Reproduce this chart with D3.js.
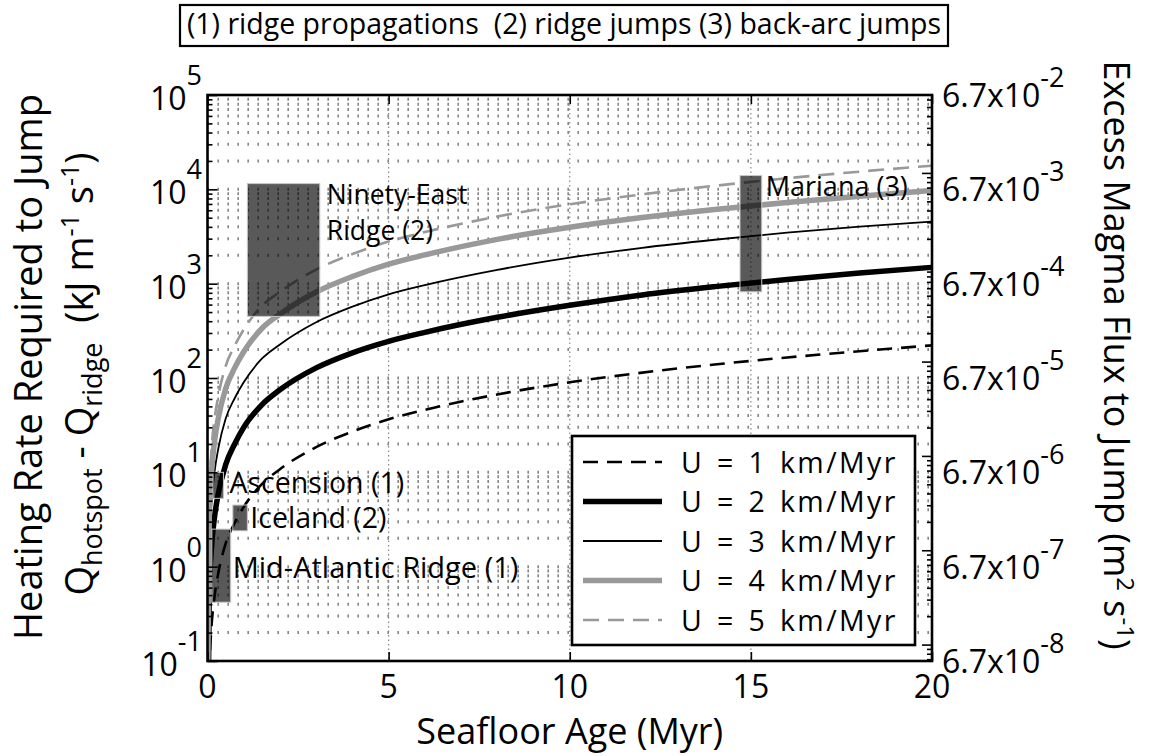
<!DOCTYPE html>
<html><head><meta charset="utf-8">
<script src="https://cdn.jsdelivr.net/npm/d3@7"></script>
<style>
body{margin:0;background:#fff;}
svg text{font-family:"Open Sans",sans-serif;fill:#000;white-space:pre;}
</style></head>
<body><svg id="c" width="1153" height="756"></svg>
<script>
// ---------- data ----------
const ages = [0.002, 0.05, 0.1, 0.2, 0.3, 0.5, 0.75, 1, 1.5, 2, 3, 4, 5, 6, 8, 10, 12, 14, 16, 18, 20];
const u1 = [0.0012, 0.08, 0.2, 0.5, 0.86, 1.75, 2.9, 4.3, 7.5, 10.8, 18.5, 27, 36.5, 46, 67, 90, 114, 139, 165, 192, 222];
const u2 = [0.008, 0.55, 1.4, 3.5, 6, 12, 20, 30, 52, 75, 128, 185, 245, 305, 440, 590, 760, 930, 1110, 1300, 1490];
const u3 = [0.025, 1.7, 4.2, 10.5, 18, 37, 61, 90, 160, 227, 390, 570, 770, 965, 1400, 1890, 2400, 2920, 3470, 4030, 4560];
const u4 = [0.05, 3.5, 8.8, 22, 38, 77, 128, 190, 335, 475, 815, 1190, 1610, 2020, 2950, 3960, 5020, 6120, 7260, 8450, 9700];
const u5 = [0.09, 6, 15, 38, 65, 133, 220, 327, 580, 820, 1410, 2060, 2800, 3520, 5150, 6950, 8850, 10900, 13100, 15400, 17800];
const seriesLabels = ["U = 1 km/Myr", "U = 2 km/Myr", "U = 3 km/Myr", "U = 4 km/Myr", "U = 5 km/Myr"];

const regionNames = ["Ninety-East|Ridge (2)", "Mariana (3)", "Ascension (1)", "Iceland (2)", "Mid-Atlantic Ridge (1)"];
const regionAgeMin = [1.1, 14.7, 0.15, 0.7, 0.12];
const regionAgeMax = [3.1, 15.3, 0.44, 1.1, 0.64];
const regionQMin = [450, 820, 5.3, 2.4, 0.42];
const regionQMax = [11500, 14000, 10, 4.5, 2.5];

const xTicks = [0, 5, 10, 15, 20];
const yTickExps = [-1, 0, 1, 2, 3, 4, 5];
const rightMantissa = "6.7";
const rightTickExps = [-8, -7, -6, -5, -4, -3, -2];
const topNote = "(1) ridge propagations  (2) ridge jumps (3) back-arc jumps";

// ---------- drawing ----------
const svg = d3.select("#c");
const m = {l: 207.5, r: 932, t: 95, b: 661};
const x = d3.scaleLinear([0, 20], [m.l, m.r]);
const y = d3.scaleLog([0.1, 1e5], [m.b, m.t]);
const yR = d3.scaleLog([6.7e-8, 6.7e-2], [m.b, m.t]);

svg.append("defs").append("clipPath").attr("id", "clip")
  .append("rect").attr("x", m.l).attr("y", m.t).attr("width", m.r - m.l).attr("height", m.b - m.t);

// grid: dotted horizontal lines at log ticks
const gridVals = y.ticks().filter(v => v > 0.1 && v < 1e5);
svg.append("g").selectAll("line").data(gridVals).join("line")
  .attr("x1", m.l).attr("x2", m.r).attr("y1", d => y(d)).attr("y2", d => y(d))
  .attr("stroke", "#6a6a6a").attr("stroke-width", 3).attr("stroke-dasharray", "1.3 8.7");
// vertical major grid
svg.append("g").selectAll("line").data(xTicks.filter(d => d > 0 && d < 20)).join("line")
  .attr("x1", d => x(d)).attr("x2", d => x(d)).attr("y1", m.t).attr("y2", m.b)
  .attr("stroke", "#888").attr("stroke-width", 1.2).attr("stroke-dasharray", "1.5 3");

// curves
const series = [u1, u2, u3, u4, u5];
const styles = [
  {c: "#000", w: 2.6, d: "15 9"},
  {c: "#000", w: 5.5, d: null},
  {c: "#000", w: 1.8, d: null},
  {c: "#999", w: 5.5, d: null},
  {c: "#999", w: 2.6, d: "16 9"}
];
const line = d3.line().x(d => x(d[0])).y(d => y(d[1])).curve(d3.curveMonotoneX);
const gc = svg.append("g").attr("clip-path", "url(#clip)");
series.forEach((s, i) => {
  gc.append("path").datum(ages.map((a, j) => [a, s[j]]))
    .attr("d", line).attr("fill", "none")
    .attr("stroke", styles[i].c).attr("stroke-width", styles[i].w)
    .attr("stroke-dasharray", styles[i].d);
});

// region boxes
regionNames.forEach((n, i) => {
  const x0 = x(regionAgeMin[i]), x1 = x(regionAgeMax[i]);
  const yt = y(regionQMax[i]), yb = y(regionQMin[i]);
  gc.append("rect").attr("x", x0).attr("y", yt).attr("width", x1 - x0).attr("height", yb - yt)
    .attr("fill", "rgba(0,0,0,0.65)").attr("stroke", "#c8c8c8").attr("stroke-width", 1);
});
// region labels
const ann = svg.append("g");
const lab = (i, dx, yy, t, fs) => ann.append("text").attr("x", x(regionAgeMax[i]) + dx).attr("y", yy)
  .style("font-size", fs + "px").text(t);
{
  const parts = regionNames[0].split("|");
  lab(0, 7, y(regionQMax[0]) + 20, parts[0], 26.5);
  lab(0, 7, y(regionQMax[0]) + 56, parts[1], 26.5);
  lab(1, 4, y(regionQMax[1]) + 20, regionNames[1], 27);
  lab(2, 6, y(regionQMin[2]) - 5, regionNames[2], 28.5);
  lab(3, 3, y(regionQMin[3]) - 3, regionNames[3], 28.5);
  lab(4, 2, (y(regionQMin[4]) + y(regionQMax[4])) / 2 + 12, regionNames[4], 29);
}

// ticks (inward)
const majors = yTickExps.map(e => Math.pow(10, e));
const minors = y.ticks().filter(v => !majors.some(M => Math.abs(M - v) / M < 1e-9));
const tickG = svg.append("g");
const ax = (g, a) => { g.call(a); g.select(".domain").remove(); g.selectAll("text").remove(); g.selectAll("line").attr("stroke-width", 1.6); };
tickG.append("g").attr("transform", `translate(${m.l},0)`).call(g => ax(g, d3.axisLeft(y).tickValues(majors).tickSize(-10).tickSizeOuter(0)));
tickG.append("g").attr("transform", `translate(${m.l},0)`).call(g => ax(g, d3.axisLeft(y).tickValues(minors).tickSize(-5).tickSizeOuter(0)));
const rMajors = yR.ticks().filter(v => Math.abs(Math.log10(v) - Math.round(Math.log10(v))) < 1e-9);
const rMinors = yR.ticks().filter(v => !rMajors.includes(v));
tickG.append("g").attr("transform", `translate(${m.r},0)`).call(g => ax(g, d3.axisRight(yR).tickValues(rMajors).tickSize(-10).tickSizeOuter(0)));
tickG.append("g").attr("transform", `translate(${m.r},0)`).call(g => ax(g, d3.axisRight(yR).tickValues(rMinors).tickSize(-5).tickSizeOuter(0)));
tickG.append("g").attr("transform", `translate(0,${m.b})`).call(g => ax(g, d3.axisBottom(x).tickValues(xTicks).tickSize(-9).tickSizeOuter(0)));
tickG.append("g").attr("transform", `translate(0,${m.t})`).call(g => ax(g, d3.axisTop(x).tickValues(xTicks).tickSize(-9).tickSizeOuter(0)));

// frame
svg.append("rect").attr("x", m.l).attr("y", m.t).attr("width", m.r - m.l).attr("height", m.b - m.t)
  .attr("fill", "none").attr("stroke", "#000").attr("stroke-width", 2.6);

// legend
const lg = svg.append("g");
lg.append("rect").attr("x", 572).attr("y", 436).attr("width", 343).attr("height", 209)
  .attr("fill", "#fff").attr("stroke", "#000").attr("stroke-width", 2.6);
seriesLabels.forEach((t, i) => {
  const cy = 462 + i * 39.5;
  lg.append("line").attr("x1", 583).attr("x2", 662).attr("y1", cy).attr("y2", cy)
    .attr("stroke", styles[i].c).attr("stroke-width", styles[i].w).attr("stroke-dasharray", styles[i].d);
  lg.append("text").attr("x", 681).attr("y", cy + 10.5).style("font-size", "28.5px")
    .style("word-spacing", "3px").style("letter-spacing", "2.4px").text(t);
});

// left tick labels
const lt = svg.append("g");
yTickExps.forEach(e => {
  const t = lt.append("text").attr("x", 202).attr("y", y(Math.pow(10, e)) + 15)
    .attr("text-anchor", "end").style("font-size", "32px");
  t.append("tspan").text("10");
  t.append("tspan").attr("dy", -25).style("font-size", "27px").text(e);
});
// right tick labels
rightTickExps.forEach(e => {
  const t = lt.append("text").attr("x", 942).attr("y", yR(6.7 * Math.pow(10, e)) + 12).style("font-size", "32px");
  t.append("tspan").text(rightMantissa + "x10");
  t.append("tspan").attr("dy", -20).style("font-size", "27px").text(e);
});
// x tick labels
xTicks.forEach(v => {
  lt.append("text").attr("x", x(v)).attr("y", 698).attr("text-anchor", "middle").style("font-size", "32px").text(v);
});

// axis titles
svg.append("text").attr("x", x(10)).attr("y", 744).attr("text-anchor", "middle").style("font-size", "36px").text("Seafloor Age (Myr)");
svg.append("text").attr("transform", "translate(42,367) rotate(-90)").attr("text-anchor", "middle")
  .style("font-size", "38px").text("Heating Rate Required to Jump");
{
  const t = svg.append("text").attr("transform", "translate(93,374) rotate(-90)").attr("text-anchor", "middle").style("font-size", "38px");
  t.append("tspan").text("Q");
  t.append("tspan").attr("dy", 9).style("font-size", "27px").text("hotspot");
  t.append("tspan").attr("dy", -9).text(" - Q");
  t.append("tspan").attr("dy", 9).style("font-size", "27px").text("ridge");
  t.append("tspan").attr("dy", -9).text("  (kJ m");
  t.append("tspan").attr("dy", -14).style("font-size", "25px").text("-1");
  t.append("tspan").attr("dy", 14).text(" s");
  t.append("tspan").attr("dy", -14).style("font-size", "25px").text("-1");
  t.append("tspan").attr("dy", 14).text(")");
}
{
  const t = svg.append("text").attr("transform", "translate(1104,355) rotate(90)").attr("text-anchor", "middle").style("font-size", "36px");
  t.append("tspan").text("Excess Magma Flux to Jump (m");
  t.append("tspan").attr("dy", -13).style("font-size", "24px").text("2");
  t.append("tspan").attr("dy", 13).text(" s");
  t.append("tspan").attr("dy", -13).style("font-size", "24px").text("-1");
  t.append("tspan").attr("dy", 13).text(")");
}

// top note box
svg.append("rect").attr("x", 180).attr("y", 5).attr("width", 768).attr("height", 41)
  .attr("fill", "#fff").attr("stroke", "#000").attr("stroke-width", 2.2);
svg.append("text").attr("x", 564).attr("y", 34).attr("text-anchor", "middle").style("font-size", "28.5px").text(topNote);
</script></body></html>
